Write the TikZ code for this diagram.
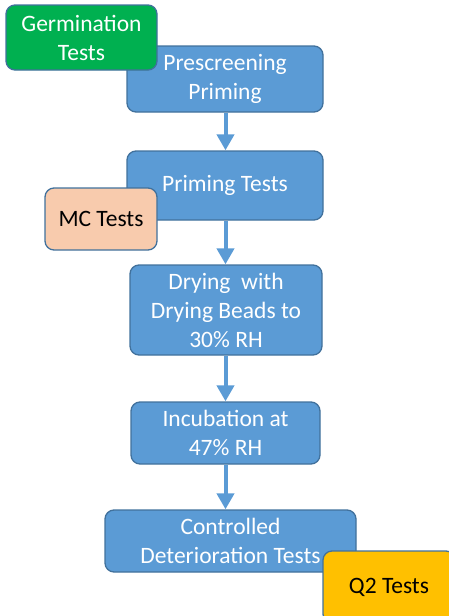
\documentclass[tikz,border=0pt]{standalone}
\usepackage{fontspec}
\setmainfont{Carlito}
\usepackage{xcolor}
\usetikzlibrary{arrows.meta,positioning}
\definecolor{stepblue}{HTML}{5B9BD5}
\definecolor{edge}{HTML}{41719C}
\definecolor{germgreen}{HTML}{00B050}
\definecolor{mcpeach}{HTML}{F8CBAD}
\definecolor{qgold}{HTML}{FFC000}

\begin{document}
\begin{tikzpicture}[
  x=1pt,y=-1pt,
  box/.style={draw=edge,line width=1.3pt,rounded corners=9pt,fill=stepblue,align=center,inner sep=0pt,
    text=white,font=\fontsize{23.5}{29}\selectfont},
  side/.style={box,text=black},
  arrow/.style={-{Triangle[width=17pt,length=16pt]},line width=4pt,draw=stepblue}
]
\useasboundingbox (0,0) rectangle (449,616);
\clip (0,0) rectangle (449,616);
% main chain
\node[box,minimum width=196pt,minimum height=66pt] (prescreen) at (225,79) {Prescreening\\Priming};
\node[box,minimum width=196pt,minimum height=69pt] (priming) at (225,185.5) {Priming Tests};
\node[box,minimum width=192pt,minimum height=90pt] (drying) at (226,310) {Drying\ \ with\\Drying Beads to\\30\% RH};
\node[box,minimum width=189pt,minimum height=62pt] (incub) at (225.5,433) {Incubation at\\47\% RH};
\node[box,minimum width=251pt,minimum height=62pt] (cdtest) at (230.5,541) {Controlled\\Deterioration Tests};
\coordinate (spine) at (225.5,0);
\draw[arrow] (prescreen.south -| spine)--(priming.north -| spine);
\draw[arrow] (priming.south -| spine)--(drying.north -| spine);
\draw[arrow] (drying.south -| spine)--(incub.north -| spine);
\draw[arrow] (incub.south -| spine)--(cdtest.north -| spine);
% tests beside the chain
\node[box,fill=germgreen,minimum width=151pt,minimum height=65pt] (germ) at (81.5,37.5) {Germination\\Tests};
\node[side,fill=mcpeach,minimum width=112pt,minimum height=62pt] (mc) at (101,219) {MC Tests};
\node[side,fill=qgold,minimum width=132pt,minimum height=72pt] (qtwo) at (389,587) {Q2 Tests};
\end{tikzpicture}
\end{document}
